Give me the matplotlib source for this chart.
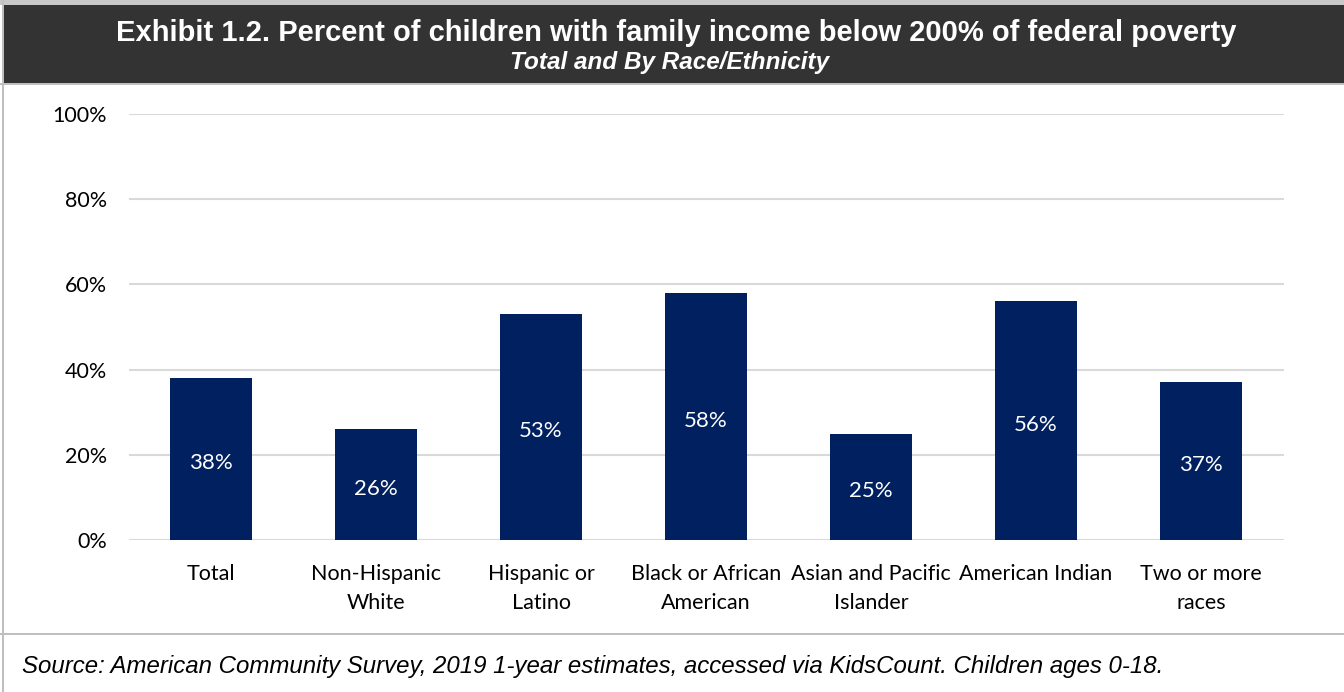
import matplotlib.pyplot as plt
from matplotlib.patches import Rectangle

# data
categories = ["Total", "Non-Hispanic\nWhite", "Hispanic or\nLatino", "Black or African\nAmerican",
              "Asian and Pacific\nIslander", "American Indian", "Two or more\nraces"]
values = [38, 26, 53, 58, 25, 56, 37]
y_ticks = [0, 20, 40, 60, 80, 100]

W, H = 1344, 692
fig = plt.figure(figsize=(W / 100, H / 100), dpi=100)
fig.patch.set_facecolor("white")

def px(x, y, w, h):
    # pixel box (from top-left) to figure fraction
    return (x / W, 1 - (y + h) / H, w / W, h / H)

# header band and frame lines
for box, col in [((0, 0, W, 5), "#c8c8c8"), ((4, 5, W - 4, 78), "#333333"),
                 ((0, 83, W, 2), "#c0c0c0"), ((2, 0, 2, H), "#bfbfbf"),
                 ((0, 633, W, 2), "#bfbfbf")]:
    x0, y0, w0, h0 = px(*box)
    fig.add_artist(Rectangle((x0, y0), w0, h0, transform=fig.transFigure,
                             facecolor=col, edgecolor="none", zorder=0))

fig.text(676 / W, 1 - 33 / H, "Exhibit 1.2. Percent of children with family income below 200% of federal poverty",
         ha="center", va="center", color="white", fontsize=21, fontweight="bold",
         family="Liberation Sans")
fig.text(670 / W, 1 - 62 / H, "Total and By Race/Ethnicity", ha="center", va="center",
         color="white", fontsize=17.5, fontweight="bold", style="italic", family="Liberation Sans")
fig.text(22 / W, 1 - 666 / H,
         "Source: American Community Survey, 2019 1-year estimates, accessed via KidsCount. Children ages 0-18.",
         ha="left", va="center", color="black", fontsize=17.3, style="italic", family="Liberation Sans")

ax = fig.add_axes([128.5 / W, 152 / H, 1155 / W, 426 / H])
x = range(len(categories))
bars = ax.bar(x, values, width=0.5, color="#002060", zorder=3)
for b, v in zip(bars, values):
    ax.annotate(f"{v}%", (b.get_x() + b.get_width() / 2, v / 2), xytext=(0, -3),
                textcoords="offset points", ha="center", va="center",
                color="white", fontsize=16, family="Lato")

ax.set_xlim(-0.5, len(categories) - 0.5)
ax.set_ylim(0, 100)
ax.set_yticks(y_ticks)
ax.set_yticklabels([f"{t}%" for t in y_ticks], fontsize=15.5, family="Lato")
ax.set_xticks(list(x))
ax.set_xticklabels(categories, fontsize=15.5, family="Lato", linespacing=1.55)
ax.tick_params(length=0, axis="y", pad=15.5)
ax.tick_params(length=0, axis="x", pad=17.5)
ax.grid(axis="y", color="#d9d9d9", linewidth=1.5, zorder=0)
for s in ax.spines.values():
    s.set_visible(False)
ax.set_facecolor("none")

fig.savefig("out.png", dpi=100)
